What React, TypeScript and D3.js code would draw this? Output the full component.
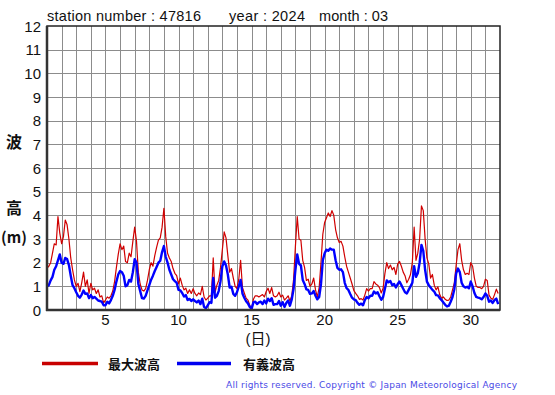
import React, { useEffect, useRef } from 'react';
import * as d3 from 'd3';

// 3-hourly readings, day 1 00:00 .. day 31 21:00 (m)
const maxWave = [
  1.77, 1.85, 2.0, 2.4, 2.8, 2.75, 3.95, 3.25,
  2.8, 3.1, 3.8, 3.6, 3.0, 2.2, 1.7, 1.27,
  1.0, 1.13, 0.78, 1.15, 1.6, 1.0, 1.27, 0.7,
  1.13, 0.85, 0.92, 0.7, 0.85, 0.55, 0.6, 0.3,
  0.42, 0.55, 0.5, 0.6, 0.8, 1.2, 1.8, 2.35,
  2.8, 2.55, 2.7, 2.05, 2.0, 2.4, 2.25, 2.9,
  3.5, 2.9, 1.6, 1.1, 0.85, 0.8, 0.9, 1.25,
  1.7, 2.0, 1.85, 2.3, 2.65, 2.95, 3.05, 3.5,
  4.3, 3.1, 2.4, 2.2, 2.05, 1.75, 1.55, 1.45,
  1.1, 1.35, 1.05, 0.85, 0.92, 0.7, 0.85, 0.7,
  0.9, 0.7, 0.6, 0.72, 0.65, 1.0, 0.55, 0.42,
  0.5, 0.6, 0.6, 2.2, 0.75, 1.05, 1.25, 1.8,
  2.55, 3.3, 3.05, 2.3, 1.6, 1.75, 1.35, 1.0,
  0.9, 1.3, 2.1, 0.95, 0.72, 0.5, 0.42, 0.2,
  0.05, 0.45, 0.6, 0.6, 0.55, 0.6, 0.65, 0.55,
  0.78, 0.92, 0.7, 0.95, 0.6, 0.55, 0.6, 0.75,
  0.55, 0.63, 0.42, 0.5, 0.6, 0.38, 0.6, 1.3,
  2.7, 3.95, 3.0, 2.95, 2.1, 1.8, 1.25, 1.3,
  1.0, 1.1, 1.35, 0.85, 0.55, 0.95, 2.0, 3.2,
  3.7, 3.9, 4.1, 3.95, 4.2, 4.0, 3.4, 3.05,
  2.85, 2.9, 2.7, 2.25, 1.85, 1.6, 1.35, 1.1,
  0.82, 0.7, 0.6, 0.45, 0.48, 0.42, 0.63, 0.9,
  0.8, 0.9, 0.9, 1.2, 1.1, 1.05, 0.95, 0.72,
  0.92, 1.55, 2.0, 1.75, 1.9, 1.7, 1.8, 1.5,
  1.95, 2.05, 1.85, 1.6, 1.45, 1.15, 1.3, 1.5,
  2.0, 3.5, 2.1, 2.4, 3.0, 4.4, 4.2, 3.0,
  2.2, 1.95, 1.35, 1.5, 1.05, 0.85, 0.98, 0.65,
  0.5, 0.55, 0.45, 0.4, 0.42, 0.55, 0.85, 1.15,
  1.9, 2.55, 2.8, 2.1, 1.7, 1.5, 1.55, 1.5,
  2.0, 1.85, 1.35, 1.0, 0.95, 0.95, 0.9, 1.0,
  1.3, 1.25, 0.63, 0.5, 0.45, 0.65, 0.88, 0.7,
];

const sigWave = [
  1.0, 1.05, 1.25, 1.4, 1.7, 1.85, 2.1, 2.35,
  2.0, 1.95, 2.2, 2.15, 1.9, 1.45, 1.05, 0.92,
  0.75, 0.6, 0.52, 0.65, 0.82, 0.68, 0.7, 0.5,
  0.63, 0.5, 0.55, 0.48, 0.4, 0.38, 0.35, 0.2,
  0.2, 0.35, 0.28, 0.42, 0.6, 0.85, 1.2, 1.5,
  1.65, 1.6, 1.45, 1.0, 1.05, 1.27, 1.2, 1.6,
  2.15, 2.0, 1.1, 0.8, 0.5, 0.48, 0.6, 0.83,
  1.05, 1.28, 1.45, 1.65, 1.82, 2.0, 2.08, 2.45,
  2.7, 2.25, 2.0, 1.7, 1.5, 1.3, 1.22, 1.15,
  0.85, 0.83, 0.72, 0.57, 0.63, 0.42, 0.47, 0.38,
  0.45, 0.38, 0.32, 0.4, 0.25, 0.48, 0.13, 0.07,
  0.2, 0.33, 0.3, 1.35, 0.52, 0.6, 0.8, 1.22,
  1.85, 2.05, 1.88, 1.5, 0.95, 0.98, 0.68, 0.6,
  0.75, 1.0, 1.27, 0.7, 0.52, 0.37, 0.28, 0.13,
  0.05, 0.32, 0.35, 0.25, 0.32, 0.35, 0.25, 0.4,
  0.28, 0.48, 0.38, 0.5, 0.22, 0.25, 0.25, 0.38,
  0.18, 0.33, 0.13, 0.3, 0.4, 0.18, 0.45, 0.9,
  1.7, 2.35, 1.95, 1.88, 1.27, 1.1, 0.87, 0.85,
  0.68, 0.7, 0.8, 0.6, 0.45, 0.55, 1.1, 2.1,
  2.4, 2.55, 2.5, 2.6, 2.55, 2.55, 2.1, 1.78,
  1.7, 1.72, 1.6, 1.15, 0.92, 0.85, 0.68, 0.52,
  0.45, 0.42, 0.3, 0.22, 0.27, 0.2, 0.42, 0.55,
  0.5, 0.6, 0.6, 0.78, 0.7, 0.75, 0.58, 0.43,
  0.55, 0.9, 1.25, 1.17, 1.22, 1.05, 1.1, 0.95,
  1.1, 1.2, 1.05, 0.9, 0.75, 0.7, 0.85, 1.0,
  1.15, 1.85, 1.4, 1.55, 2.0, 2.75, 2.5, 1.7,
  1.2, 1.05, 0.95, 0.85, 0.78, 0.63, 0.62, 0.5,
  0.42, 0.32, 0.22, 0.15, 0.18, 0.35, 0.55, 0.88,
  1.55, 1.75, 1.6, 1.15, 1.0, 0.95, 0.98, 0.92,
  1.2, 1.0, 0.72, 0.55, 0.52, 0.5, 0.45, 0.55,
  0.7, 0.6, 0.35, 0.4, 0.3, 0.42, 0.48, 0.25,
];

const yTicks = [0, 1, 2, 3, 4, 5, 6, 7, 8, 9, 10, 11, 12];
const xTicks = [5, 10, 15, 20, 25, 30];
const gridDays = [2, 3, 4, 5, 6, 7, 8, 9, 10, 11, 12, 13, 14, 15, 16, 17, 18, 19, 20, 21, 22, 23, 24, 25, 26, 27, 28, 29, 30, 31];
const stepsPerDay = 8;

const latin = '"Liberation Sans", Arial, sans-serif';
const cjk = '"Noto Sans CJK JP", sans-serif';

export default function App() {
  const svgRef = useRef<SVGSVGElement | null>(null);

  useEffect(() => {
    if (!svgRef.current) return;
    const svg = d3.select(svgRef.current);
    svg.selectAll('*').remove();

    const left = 47, right = 500, top = 26, bottom = 310;
    const x = d3.scaleLinear().domain([1, 32]).range([left, right]);
    const y = d3.scaleLinear().domain([0, 12]).range([bottom, top]);

    svg.append('rect').attr('width', 555).attr('height', 395).attr('fill', '#fff');

    // grid
    const grid = svg.append('g').attr('stroke', '#8c8c8c').attr('stroke-width', 1);
    gridDays.forEach((d) => {
      const gx = Math.round(x(d)) + 0.5;
      grid.append('line').attr('x1', gx).attr('x2', gx).attr('y1', top).attr('y2', bottom);
    });
    yTicks.slice(1, -1).forEach((v) => {
      const gy = Math.round(y(v)) + 0.5;
      grid.append('line').attr('x1', left).attr('x2', right).attr('y1', gy).attr('y2', gy);
    });

    svg.append('defs').append('clipPath').attr('id', 'plot-clip')
      .append('rect').attr('x', left).attr('y', top).attr('width', right - left).attr('height', bottom - top);

    const line = d3.line<number>()
      .x((_, i) => x(1 + i / stepsPerDay))
      .y((v) => y(v));

    const plot = svg.append('g').attr('clip-path', 'url(#plot-clip)');
    plot.append('path').datum(maxWave).attr('d', line)
      .attr('fill', 'none').attr('stroke', '#d00000').attr('stroke-width', 1.2)
      .attr('stroke-linejoin', 'round');
    plot.append('path').datum(sigWave).attr('d', line)
      .attr('fill', 'none').attr('stroke', '#0000ff').attr('stroke-width', 2.4)
      .attr('stroke-linejoin', 'round');

    // frame
    svg.append('rect').attr('x', left).attr('y', top).attr('width', right - left).attr('height', bottom - top)
      .attr('fill', 'none').attr('stroke', '#222').attr('stroke-width', 1.5);
    svg.append('line').attr('x1', left).attr('x2', left).attr('y1', top).attr('y2', bottom + 1)
      .attr('stroke', '#333').attr('stroke-width', 2.5);
    svg.append('line').attr('x1', left - 1).attr('x2', right).attr('y1', bottom).attr('y2', bottom)
      .attr('stroke', '#333').attr('stroke-width', 2.5);

    // y tick labels
    svg.append('g').selectAll('text').data(yTicks).join('text')
      .attr('x', 41).attr('y', (v) => y(v) + 5.5)
      .attr('text-anchor', 'end').attr('font-family', latin).attr('font-size', 15)
      .attr('fill', '#111').text((v) => v);

    // x tick labels
    svg.append('g').selectAll('text').data(xTicks).join('text')
      .attr('x', (d) => x(d)).attr('y', 325)
      .attr('text-anchor', 'middle').attr('font-family', latin).attr('font-size', 15)
      .attr('fill', '#111').text((d) => d);

    svg.append('text').attr('x', 258).attr('y', 344).attr('text-anchor', 'middle')
      .attr('font-family', `${latin}, ${cjk}`).attr('font-size', 15).attr('fill', '#111').text('(日)');

    // y axis title
    const yt = svg.append('g').attr('font-family', cjk).attr('font-size', 16)
      .attr('font-weight', 'bold').attr('fill', '#111').attr('text-anchor', 'middle');
    yt.append('text').attr('x', 14).attr('y', 148).text('波');
    yt.append('text').attr('x', 14).attr('y', 214).text('高');
    yt.append('text').attr('x', 14).attr('y', 243).attr('font-size', 15).text('(m)');

    // title
    const tt = svg.append('g').attr('font-family', latin).attr('font-size', 14.5).attr('fill', '#111');
    tt.append('text').attr('x', 47).attr('y', 21).attr('textLength', 154).text('station number : 47816');
    tt.append('text').attr('x', 229).attr('y', 21).attr('textLength', 76).text('year : 2024');
    tt.append('text').attr('x', 319).attr('y', 21).attr('textLength', 69).text('month : 03');

    // legend
    const lg = svg.append('g');
    lg.append('line').attr('x1', 42).attr('x2', 98).attr('y1', 363.5).attr('y2', 363.5)
      .attr('stroke', '#c80000').attr('stroke-width', 3.5);
    lg.append('text').attr('x', 108).attr('y', 368.5).attr('font-family', cjk).attr('font-size', 13)
      .attr('font-weight', 'bold').attr('fill', '#111').attr('textLength', 52).text('最大波高');
    lg.append('line').attr('x1', 177).attr('x2', 231).attr('y1', 363.5).attr('y2', 363.5)
      .attr('stroke', '#0000f0').attr('stroke-width', 3.5);
    lg.append('text').attr('x', 243).attr('y', 368.5).attr('font-family', cjk).attr('font-size', 13)
      .attr('font-weight', 'bold').attr('fill', '#111').attr('textLength', 52).text('有義波高');

    svg.append('text').attr('x', 226).attr('y', 388).attr('font-family', '"DejaVu Sans", Verdana, sans-serif')
      .attr('font-size', 9).attr('fill', '#4a4ae6').attr('textLength', 291).attr('lengthAdjust', 'spacing')
      .text('All rights reserved. Copyright © Japan Meteorological Agency');
  }, []);

  return (
    <div style={{ position: 'absolute', left: 0, top: 0 }}>
      <svg ref={svgRef} width={555} height={395} style={{ display: 'block' }} />
    </div>
  );
}
